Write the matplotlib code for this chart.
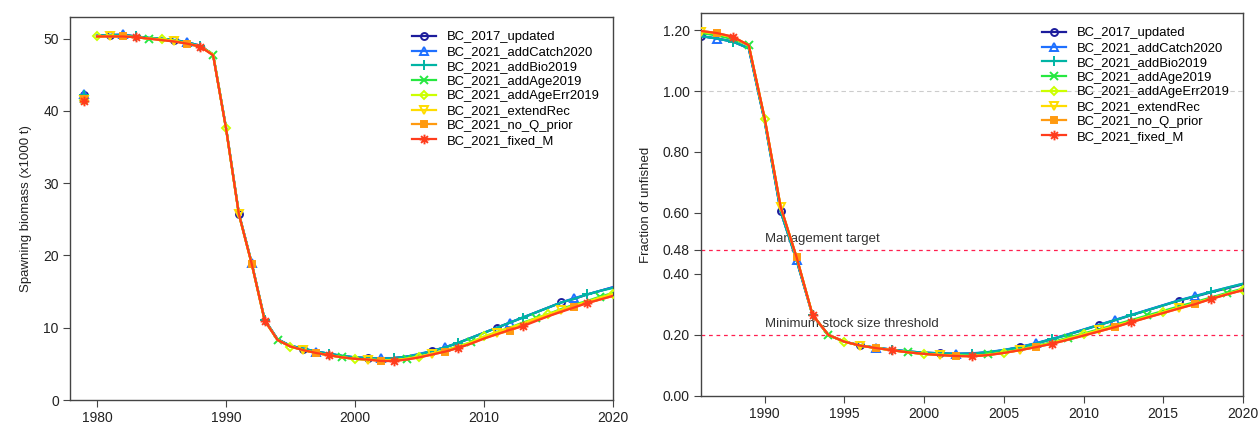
import numpy as np
import matplotlib.pyplot as plt
from matplotlib.path import Path

plt.rcParams['font.family'] = ['Liberation Sans', 'DejaVu Sans']

# 星形标记（+ 与 x 叠加，类似 R 的 pch=8）
_a = 0.7071
star = Path([(-1, 0), (1, 0), (0, -1), (0, 1), (-_a, -_a), (_a, _a), (-_a, _a), (_a, -_a)],
            [Path.MOVETO, Path.LINETO] * 4)

# 模型名称与样式
models = ['BC_2017_updated', 'BC_2021_addCatch2020', 'BC_2021_addBio2019',
          'BC_2021_addAge2019', 'BC_2021_addAgeErr2019', 'BC_2021_extendRec',
          'BC_2021_no_Q_prior', 'BC_2021_fixed_M']
colors = ['#1c1c9c', '#1f70ff', '#00b4a4', '#26e840', '#ccff00', '#ffdc00', '#ff9a10', '#ff3c1c']
markers = ['o', '^', '+', 'x', 'D', 'v', 's', star]
msizes = [5, 5.5, 6.5, 5.5, 4.2, 5.5, 5, 7]
filled = [False, False, True, True, False, False, True, True]
offsets = [1, 2, 3, 4, 0, 1, 2, 3]

# 产卵生物量 (x1000 t)
ssb_years = np.arange(1980, 2021)
virgin_year = 1979
ssb_virgin = [42.2, 42.3, 42.2, 41.6, 41.5, 41.5, 41.6, 41.4]
ssb_2017_updated = [50.4, 50.5, 50.5, 50.3, 50.1, 50.0, 49.8, 49.5, 49.0, 47.8,
                    37.7, 25.8, 18.9, 11.1, 8.4, 7.5, 7.1, 6.7, 6.4, 6.1,
                    5.9, 5.8, 5.7, 5.8, 6.0, 6.3, 6.8, 7.3, 7.9, 8.6,
                    9.3, 10.0, 10.7, 11.4, 12.1, 12.8, 13.5, 14.0, 14.6, 15.1, 15.6]
ssb_addCatch2020 = [50.4, 50.5, 50.6, 50.3, 50.1, 50.0, 49.8, 49.5, 49.0, 47.8,
                    37.7, 25.8, 18.9, 11.1, 8.4, 7.5, 7.1, 6.7, 6.4, 6.1,
                    5.9, 5.8, 5.8, 5.8, 6.0, 6.4, 6.8, 7.3, 7.9, 8.6,
                    9.3, 10.0, 10.7, 11.4, 12.1, 12.8, 13.5, 14.1, 14.6, 15.1, 15.6]
ssb_addBio2019 = [50.4, 50.5, 50.5, 50.3, 50.1, 50.0, 49.8, 49.5, 49.0, 47.8,
                  37.7, 25.8, 18.9, 11.1, 8.4, 7.5, 7.1, 6.7, 6.4, 6.1,
                  5.9, 5.8, 5.7, 5.8, 6.0, 6.3, 6.8, 7.3, 7.9, 8.6,
                  9.3, 10.0, 10.7, 11.4, 12.1, 12.8, 13.5, 14.0, 14.6, 15.1, 15.5]
ssb_addAge2019 = [50.3, 50.4, 50.3, 50.2, 50.0, 49.9, 49.7, 49.3, 48.9, 47.8,
                  37.6, 25.7, 18.8, 11.0, 8.3, 7.4, 6.9, 6.5, 6.2, 5.9,
                  5.7, 5.6, 5.5, 5.5, 5.7, 6.0, 6.4, 6.9, 7.4, 8.0,
                  8.7, 9.4, 10.0, 10.7, 11.3, 11.9, 12.6, 13.2, 13.7, 14.3, 14.8]
ssb_addAgeErr2019 = [50.3, 50.4, 50.3, 50.2, 50.0, 49.9, 49.7, 49.3, 48.9, 47.8,
                     37.6, 25.7, 18.8, 11.0, 8.3, 7.4, 6.9, 6.5, 6.2, 5.9,
                     5.7, 5.6, 5.5, 5.5, 5.7, 6.0, 6.4, 6.9, 7.4, 8.0,
                     8.8, 9.4, 10.0, 10.6, 11.3, 11.9, 12.5, 13.1, 13.6, 14.2, 14.7]
ssb_extendRec = [50.3, 50.4, 50.3, 50.2, 50.0, 49.9, 49.7, 49.3, 48.9, 47.8,
                 37.6, 25.7, 18.8, 11.0, 8.3, 7.4, 6.9, 6.5, 6.2, 5.9,
                 5.7, 5.6, 5.5, 5.5, 5.7, 6.0, 6.4, 6.8, 7.3, 7.9,
                 8.7, 9.3, 9.9, 10.5, 11.2, 11.8, 12.4, 13.0, 13.5, 14.1, 14.6]
ssb_no_Q_prior = [50.3, 50.3, 50.3, 50.2, 50.0, 49.8, 49.6, 49.3, 48.9, 47.7,
                  37.6, 25.7, 18.8, 11.0, 8.3, 7.4, 6.9, 6.5, 6.2, 5.9,
                  5.7, 5.6, 5.4, 5.4, 5.6, 5.9, 6.3, 6.7, 7.2, 7.8,
                  8.5, 9.1, 9.6, 10.3, 11.0, 11.6, 12.3, 12.9, 13.4, 13.9, 14.4]
ssb_fixed_M = [50.3, 50.3, 50.3, 50.2, 50.0, 49.8, 49.6, 49.3, 48.9, 47.7,
               37.6, 25.7, 18.8, 11.0, 8.3, 7.4, 6.9, 6.5, 6.2, 5.9,
               5.7, 5.6, 5.4, 5.4, 5.6, 5.9, 6.3, 6.7, 7.2, 7.8,
               8.5, 9.1, 9.7, 10.2, 10.9, 11.6, 12.2, 12.8, 13.4, 13.9, 14.4]
ssb_all = [ssb_2017_updated, ssb_addCatch2020, ssb_addBio2019, ssb_addAge2019,
           ssb_addAgeErr2019, ssb_extendRec, ssb_no_Q_prior, ssb_fixed_M]

# 相对未捕捞水平
frac_years = np.arange(1986, 2021)
frac_2017_updated = [1.180, 1.172, 1.162, 1.140, 0.900, 0.605, 0.445, 0.265, 0.200, 0.178,
                     0.166, 0.158, 0.152, 0.146, 0.142, 0.140, 0.138, 0.139, 0.143, 0.150,
                     0.160, 0.172, 0.186, 0.201, 0.217, 0.233, 0.249, 0.265, 0.281, 0.297,
                     0.313, 0.326, 0.340, 0.353, 0.366]
frac_addCatch2020 = [1.180, 1.172, 1.162, 1.140, 0.900, 0.605, 0.445, 0.265, 0.200, 0.178,
                     0.166, 0.158, 0.152, 0.146, 0.142, 0.140, 0.139, 0.140, 0.144, 0.151,
                     0.161, 0.173, 0.187, 0.202, 0.218, 0.234, 0.250, 0.266, 0.282, 0.298,
                     0.314, 0.328, 0.342, 0.355, 0.368]
frac_addBio2019 = [1.180, 1.172, 1.162, 1.140, 0.900, 0.605, 0.445, 0.265, 0.200, 0.178,
                   0.166, 0.158, 0.152, 0.146, 0.142, 0.140, 0.138, 0.139, 0.143, 0.150,
                   0.160, 0.172, 0.186, 0.201, 0.217, 0.233, 0.249, 0.265, 0.281, 0.297,
                   0.313, 0.327, 0.341, 0.355, 0.368]
frac_addAge2019 = [1.190, 1.182, 1.170, 1.150, 0.908, 0.618, 0.453, 0.266, 0.200, 0.178,
                   0.165, 0.157, 0.150, 0.143, 0.138, 0.135, 0.133, 0.132, 0.137, 0.144,
                   0.153, 0.164, 0.176, 0.191, 0.205, 0.219, 0.234, 0.249, 0.264, 0.279,
                   0.294, 0.308, 0.323, 0.338, 0.352]
frac_addAgeErr2019 = [1.195, 1.188, 1.176, 1.150, 0.908, 0.620, 0.455, 0.266, 0.200, 0.178,
                      0.165, 0.157, 0.150, 0.143, 0.138, 0.135, 0.132, 0.131, 0.135, 0.142,
                      0.151, 0.162, 0.174, 0.188, 0.202, 0.216, 0.230, 0.245, 0.260, 0.275,
                      0.290, 0.304, 0.320, 0.335, 0.349]
frac_extendRec = [1.195, 1.188, 1.176, 1.150, 0.908, 0.620, 0.455, 0.266, 0.200, 0.178,
                  0.165, 0.157, 0.150, 0.143, 0.138, 0.135, 0.132, 0.131, 0.135, 0.142,
                  0.150, 0.161, 0.173, 0.187, 0.201, 0.215, 0.229, 0.244, 0.259, 0.274,
                  0.289, 0.303, 0.319, 0.334, 0.348]
frac_no_Q_prior = [1.197, 1.190, 1.178, 1.150, 0.910, 0.620, 0.455, 0.266, 0.200, 0.178,
                   0.165, 0.157, 0.150, 0.143, 0.138, 0.134, 0.131, 0.130, 0.134, 0.141,
                   0.150, 0.160, 0.171, 0.184, 0.198, 0.212, 0.226, 0.242, 0.257, 0.272,
                   0.287, 0.302, 0.318, 0.333, 0.347]
frac_fixed_M = [1.197, 1.190, 1.178, 1.150, 0.910, 0.620, 0.455, 0.266, 0.200, 0.178,
                0.165, 0.157, 0.150, 0.143, 0.138, 0.134, 0.131, 0.130, 0.134, 0.141,
                0.150, 0.160, 0.171, 0.184, 0.198, 0.212, 0.226, 0.242, 0.257, 0.272,
                0.287, 0.301, 0.318, 0.333, 0.347]
frac_all = [frac_2017_updated, frac_addCatch2020, frac_addBio2019, frac_addAge2019,
            frac_addAgeErr2019, frac_extendRec, frac_no_Q_prior, frac_fixed_M]

target = 0.48
threshold = 0.20


def style_axes(ax):
    for s in ax.spines.values():
        s.set_color('#444444')
        s.set_linewidth(1.0)
    ax.tick_params(direction='out', length=5, width=0.8, color='#444444',
                   labelsize=10, labelcolor='#222222', pad=3)


def mstyle(i):
    mfc = colors[i] if filled[i] else 'none'
    return dict(marker=markers[i], ms=msizes[i], mec=colors[i], mfc=mfc, mew=1.4)


def draw_models(ax, years, series):
    years = np.asarray(years)
    for i, vals in enumerate(series):
        vals = np.asarray(vals)
        ax.plot(years, vals, color=colors[i], lw=1.6, zorder=2 + i)
        # 交错绘制点标记，每5年一个
        idx = np.where((years - 1980 - offsets[i]) % 5 == 0)[0]
        ax.plot(years[idx], vals[idx], ls='none', zorder=2 + i, **mstyle(i))


fig = plt.figure(figsize=(12.58, 4.28), dpi=100)
ax1 = fig.add_axes([0.0556, 0.0654, 0.4316, 0.895])
ax2 = fig.add_axes([0.5572, 0.0748, 0.4308, 0.895])

# 左图：产卵生物量
draw_models(ax1, ssb_years, ssb_all)
for i in range(len(models)):
    ax1.plot(virgin_year, ssb_virgin[i], ls='none', zorder=2 + i, **mstyle(i))
ax1.set_xlim(1977.9, 2020)
ax1.set_ylim(0, 53)
ax1.set_xticks([1980, 1990, 2000, 2010, 2020])
ax1.set_yticks([0, 10, 20, 30, 40, 50])
ax1.set_ylabel('Spawning biomass (x1000 t)', fontsize=9.5, color='#222222', labelpad=8)
style_axes(ax1)

# 右图：相对未捕捞
ax2.axhline(1.0, color='#cccccc', lw=0.8, ls=(0, (4, 3)), zorder=1)
ax2.axhline(target, color='#ff1f4f', lw=0.9, ls=(0, (3, 3)), zorder=1)
ax2.axhline(threshold, color='#ff1f4f', lw=0.9, ls=(0, (3, 3)), zorder=1)
ax2.text(1990, target + 0.015, 'Management target', fontsize=9.5, color='#333333',
         va='bottom', ha='left', zorder=1)
ax2.text(1990, threshold + 0.015, 'Minimum stock size threshold', fontsize=9.5,
         color='#333333', va='bottom', ha='left', zorder=1)
draw_models(ax2, frac_years, frac_all)
ax2.set_xlim(1986, 2020)
ax2.set_ylim(0, 1.256)
ax2.set_xticks([1990, 1995, 2000, 2005, 2010, 2015, 2020])
ax2.set_yticks([0.0, 0.2, 0.4, 0.48, 0.6, 0.8, 1.0, 1.2])
ax2.set_yticklabels(['0.00', '0.20', '0.40', '0.48', '0.60', '0.80', '1.00', '1.20'])
ax2.set_ylabel('Fraction of unfished', fontsize=9.5, color='#222222', labelpad=8)
style_axes(ax2)

# 图例
for ax in [ax1, ax2]:
    handles = []
    for i in range(len(models)):
        h, = ax.plot([], [], color=colors[i], lw=1.6, **mstyle(i))
        handles.append(h)
    ax.legend(handles, models, loc='upper right', bbox_to_anchor=(0.995, 0.99), frameon=False,
              fontsize=9.4, handlelength=1.9, handletextpad=0.8, labelspacing=0.2,
              borderaxespad=0.4)

plt.savefig('out.png', dpi=100)
